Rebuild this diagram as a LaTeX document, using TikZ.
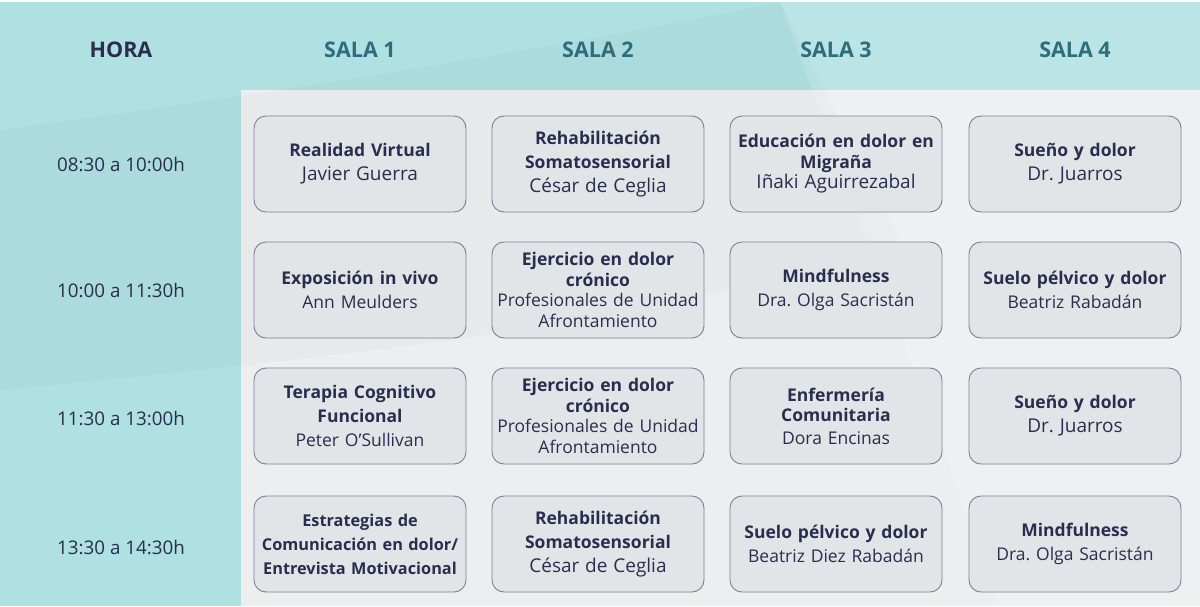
\documentclass[tikz,border=0pt]{standalone}
\usepackage{fontspec}
\setmainfont{Open Sans}
\usepackage{tikz}
\usetikzlibrary{positioning}
\definecolor{navy}{HTML}{2A2D4E}
\definecolor{salateal}{HTML}{2E6D7B}
\definecolor{bgteal}{HTML}{AFE0E2}
\definecolor{panel}{HTML}{ECEEF0}
\definecolor{boxfill}{HTML}{E2E5E8}
\definecolor{boxline}{HTML}{7C7F96}
\newcommand{\nombre}[1]{{\fontsize{19}{24}\selectfont #1}}
\frenchspacing

\begin{document}
\begin{tikzpicture}[x=1pt,y=-1pt,
  sesion/.style={rectangle, draw=boxline, fill=boxfill, line width=0.9pt, rounded corners=12pt,
    minimum width=212pt, minimum height=96pt, text width=206pt, align=center, inner sep=0pt,
    text=navy, font=\fontsize{17.5}{24}\selectfont},
  apretada/.style={font=\fontsize{17.5}{20.5}\selectfont},
  cabecera/.style={font=\fontsize{21.5}{24}\selectfont\bfseries, text=salateal},
  hora/.style={font=\fontsize{18.8}{22}\selectfont, text=navy}]
\useasboundingbox (0,0) rectangle (1200,606);
% fondo
\fill[white] (0,0) rectangle (1200,606);
\fill[bgteal] (0,2) rectangle (1200,606);
\fill[panel] (241,90) rectangle (1200,606);
\fill[black, opacity=0.018] (0,130) .. controls (300,90) and (600,40) .. (780,2) -- (900,240)
  .. controls (650,330) and (300,360) .. (0,390) -- cycle;
\fill[white, opacity=0.15] (780,2) -- (1200,2) -- (1200,606) -- (1000,606) -- cycle;

% cabeceras
\node (hhora) at (121,50) [cabecera, text=navy] {HORA};
\node (hs1) at (360,50) [cabecera] {SALA 1};
\node (hs2) at (598,50) [cabecera] {SALA 2};
\node (hs3) at (836,50) [cabecera] {SALA 3};
\node (hs4) at (1075,50) [cabecera] {SALA 4};

% horas
\node (t1) at (121,164) [hora] {08:30 a 10:00h};
\node (t2) at (121,290) [hora] {10:00 a 11:30h};
\node (t3) at (121,418) [hora] {11:30 a 13:00h};
\node (t4) at (121,547) [hora] {13:30 a 14:30h};

% fila 1
\node (r1c1) at (360,164) [sesion] {\textbf{Realidad Virtual}\\\nombre{Javier Guerra}};
\node (r1c2) at (598,164) [sesion] {\textbf{Rehabilitación}\\\textbf{Somatosensorial}\\\nombre{César de Ceglia}};
\node (r1c3) at (836,164) [sesion, apretada] {\textbf{Educación en dolor en}\\\textbf{Migraña}\\\nombre{Iñaki Aguirrezabal}};
\node (r1c4) at (1075,164) [sesion] {\textbf{Sueño y dolor}\\\nombre{Dr. Juarros}};

% fila 2
\node (r2c1) at (360,290) [sesion] {\textbf{Exposición in vivo}\\Ann Meulders};
\node (r2c2) at (598,290) [sesion, apretada] {\textbf{Ejercicio en dolor}\\\textbf{crónico}\\Profesionales de Unidad\\Afrontamiento};
\node (r2c3) at (836,290) [sesion] {\textbf{Mindfulness}\\Dra. Olga Sacristán};
\node (r2c4) at (1075,290) [sesion] {\textbf{Suelo pélvico y dolor}\\Beatriz Rabadán};

% fila 3
\node (r3c1) at (360,416) [sesion] {\textbf{Terapia Cognitivo}\\\textbf{Funcional}\\Peter O’Sullivan};
\node (r3c2) at (598,416) [sesion, apretada] {\textbf{Ejercicio en dolor}\\\textbf{crónico}\\Profesionales de Unidad\\Afrontamiento};
\node (r3c3) at (836,416) [sesion, apretada] {\textbf{Enfermería}\\\textbf{Comunitaria}\\[2pt]Dora Encinas};
\node (r3c4) at (1075,416) [sesion] {\textbf{Sueño y dolor}\\\nombre{Dr. Juarros}};

% fila 4
\node (r4c1) at (360,544) [sesion, text width=210pt, font=\fontsize{16.3}{24}\selectfont] {\textbf{Estrategias de}\\\textbf{Comunicación en dolor/}\\\textbf{Entrevista Motivacional}};
\node (r4c2) at (598,544) [sesion] {\textbf{Rehabilitación}\\\textbf{Somatosensorial}\\\nombre{César de Ceglia}};
\node (r4c3) at (836,544) [sesion] {\textbf{Suelo pélvico y dolor}\\Beatriz Diez Rabadán};
\node (r4c4) at (1075,544) [sesion] {\textbf{Mindfulness}\\Dra. Olga Sacristán};
\end{tikzpicture}
\end{document}
